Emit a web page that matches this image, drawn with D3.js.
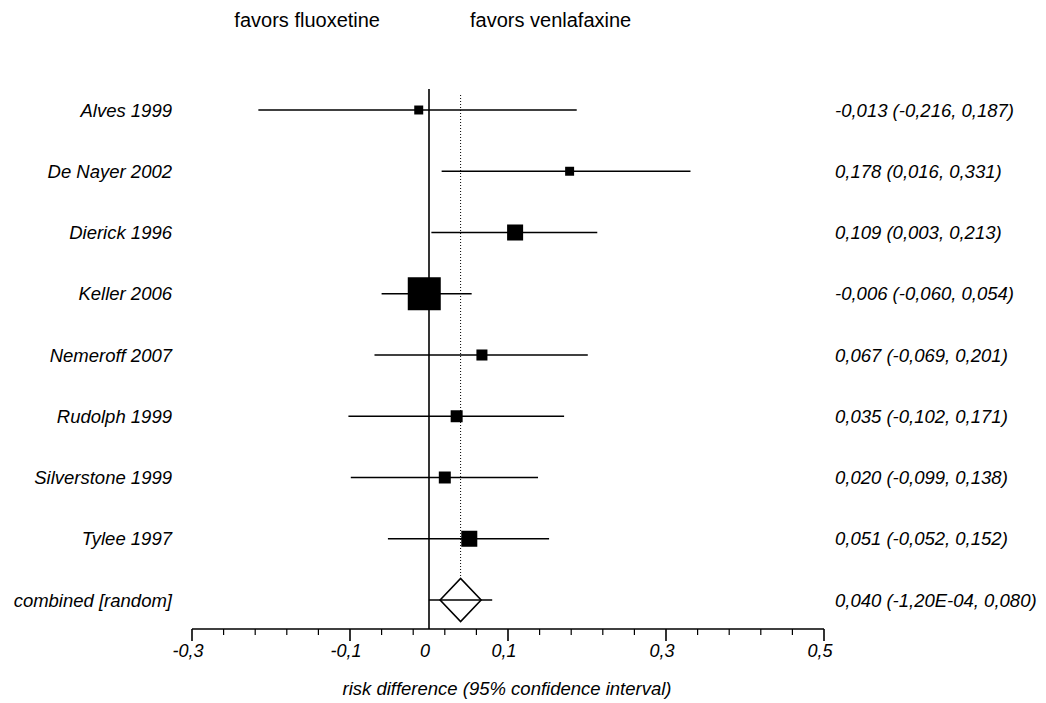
<!DOCTYPE html>
<html>
<head>
<meta charset="utf-8">
<script src="https://cdn.jsdelivr.net/npm/d3@7"></script>
<style>
  html, body { margin: 0; padding: 0; background: #fff; }
  text { font-family: "Liberation Sans", Arial, sans-serif; fill: #000; }
</style>
</head>
<body>
<svg id="chart" width="1046" height="703"></svg>
<script>
// ---- data ----
const studies = ["Alves 1999", "De Nayer 2002", "Dierick 1996", "Keller 2006",
  "Nemeroff 2007", "Rudolph 1999", "Silverstone 1999", "Tylee 1997"];
const estimates = [-0.013, 0.178, 0.109, -0.006, 0.067, 0.035, 0.020, 0.051];
const lowers    = [-0.216, 0.016, 0.003, -0.060, -0.069, -0.102, -0.099, -0.052];
const uppers    = [0.187, 0.331, 0.213, 0.054, 0.201, 0.171, 0.138, 0.152];
const weights   = [3.7, 3.7, 11.8, 50.1, 5.6, 6.6, 6.6, 11.8]; // % weight (estimated)
const combinedLabel = "combined [random]";
const combined = { est: 0.040, lo: -0.00012, hi: 0.080 };
const tickLabels = [-0.3, -0.1, 0, 0.1, 0.3, 0.5];
const headerLeft = "favors fluoxetine";
const headerRight = "favors venlafaxine";
const axisTitle = "risk difference (95% confidence interval)";

// ---- layout ----
const svg = d3.select("#chart");
const x = d3.scaleLinear().domain([-0.3, 0.5]).range([192, 824]);
const rows = studies.concat([combinedLabel]);
const y = d3.scalePoint().domain(rows).range([110, 600]);
const size = d3.scaleSqrt().domain([0, 50.1]).range([0, 33]);
const axisY = 629;
const FS = "18.5px";

const locale = d3.formatLocale({ decimal: ",", thousands: ".", grouping: [3], currency: ["", ""], minus: "-" });
const f3 = locale.format(".3f");
function fmtNum(v) {
  if (v !== 0 && Math.abs(v) < 0.001) {
    const e = Math.floor(Math.log10(Math.abs(v)));
    const m = v / Math.pow(10, e);
    const es = (e < 0 ? "-" : "+") + String(Math.abs(e)).padStart(2, "0");
    return locale.format(".2f")(m) + "E" + es;
  }
  return f3(v);
}
function ciText(e, l, u) { return fmtNum(e) + " (" + fmtNum(l) + ", " + fmtNum(u) + ")"; }
const tickFmt = v => v === 0 ? "0" : locale.format(".1f")(v);

// headers
svg.append("text").attr("x", 380).attr("y", 27).attr("text-anchor", "end")
  .style("font-size", "20px").text(headerLeft);
svg.append("text").attr("x", 470).attr("y", 27).attr("text-anchor", "start")
  .style("font-size", "20px").text(headerRight);

// zero line
svg.append("line").attr("x1", x(0)).attr("x2", x(0)).attr("y1", 89).attr("y2", axisY)
  .attr("stroke", "#000").attr("stroke-width", 1.6);

// pooled dotted line
svg.append("line").attr("x1", x(combined.est)).attr("x2", x(combined.est))
  .attr("y1", 95).attr("y2", y(combinedLabel) - 22)
  .attr("stroke", "#000").attr("stroke-width", 1).attr("stroke-dasharray", "1,2");

const data = studies.map((s, i) => ({ s, e: estimates[i], l: lowers[i], u: uppers[i], w: weights[i] }));

// CI lines
svg.selectAll("line.ci").data(data).enter().append("line").attr("class", "ci")
  .attr("x1", d => x(d.l)).attr("x2", d => x(d.u))
  .attr("y1", d => y(d.s)).attr("y2", d => y(d.s))
  .attr("stroke", "#000").attr("stroke-width", 1.6);

// squares
svg.selectAll("rect.pt").data(data).enter().append("rect").attr("class", "pt")
  .attr("x", d => x(d.e) - size(d.w) / 2).attr("y", d => y(d.s) - size(d.w) / 2)
  .attr("width", d => size(d.w)).attr("height", d => size(d.w)).attr("fill", "#000");

// combined
const cy = y(combinedLabel);
svg.append("line").attr("x1", x(combined.lo)).attr("x2", x(combined.hi))
  .attr("y1", cy).attr("y2", cy).attr("stroke", "#000").attr("stroke-width", 1.6);
const cx = x(combined.est);
svg.append("path")
  .attr("d", `M${cx - 20.5},${cy} L${cx},${cy - 21.5} L${cx + 20.5},${cy} L${cx},${cy + 21.5} Z`)
  .attr("fill", "none").attr("stroke", "#000").attr("stroke-width", 1.6);

// labels
svg.selectAll("text.study").data(rows).enter().append("text").attr("class", "study")
  .attr("x", 172).attr("y", d => y(d) + 6.5).attr("text-anchor", "end")
  .style("font-size", FS).style("font-style", "italic").text(d => d);

const rightTexts = data.map(d => ciText(d.e, d.l, d.u)).concat([ciText(combined.est, combined.lo, combined.hi)]);
svg.selectAll("text.ci").data(rows).enter().append("text").attr("class", "ci")
  .attr("x", 835).attr("y", d => y(d) + 6.5).attr("text-anchor", "start")
  .style("font-size", FS).style("font-style", "italic").text((d, i) => rightTexts[i]);

// axis
const axisG = svg.append("g").attr("transform", `translate(0,${axisY})`);
axisG.append("line").attr("x1", x(-0.3)).attr("x2", x(0.5)).attr("y1", 0).attr("y2", 0)
  .attr("stroke", "#000").attr("stroke-width", 1.6);
const minorTicks = d3.range(0, 21).map(i => -0.3 + i * 0.04)
  .filter(v => !tickLabels.some(t => Math.abs(t - v) < 1e-9) && Math.abs(v) > 1e-9);
axisG.selectAll("line.minor").data(minorTicks).enter().append("line").attr("class", "minor")
  .attr("x1", d => x(d)).attr("x2", d => x(d)).attr("y1", 0).attr("y2", 6)
  .attr("stroke", "#000").attr("stroke-width", 1.2);
axisG.selectAll("line.major").data(tickLabels.filter(v => v !== 0)).enter().append("line").attr("class", "major")
  .attr("x1", d => x(d)).attr("x2", d => x(d)).attr("y1", 0).attr("y2", 12)
  .attr("stroke", "#000").attr("stroke-width", 1.6);
axisG.selectAll("text.tick").data(tickLabels).enter().append("text").attr("class", "tick")
  .attr("x", d => x(d) - 4).attr("y", 28).attr("text-anchor", "middle")
  .style("font-size", "18px").style("font-style", "italic").text(tickFmt);

svg.append("text").attr("x", 507).attr("y", 695).attr("text-anchor", "middle")
  .style("font-size", FS).style("font-style", "italic").text(axisTitle);
</script>
</body>
</html>
